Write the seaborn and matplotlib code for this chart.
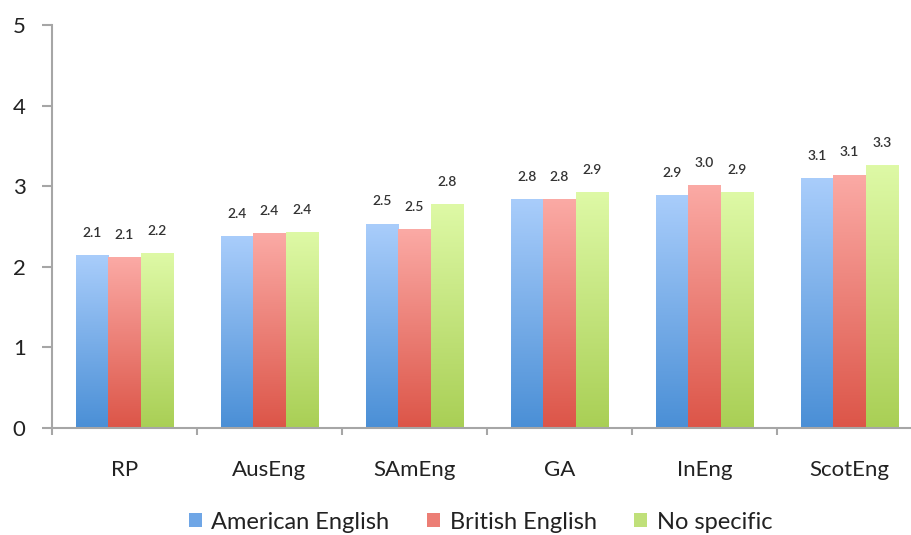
import numpy as np
import pandas as pd
import seaborn as sns
import matplotlib.pyplot as plt
from matplotlib.colors import LinearSegmentedColormap
from matplotlib.patches import Patch

# data
accents = ["RP", "AusEng", "SAmEng", "GA", "InEng", "ScotEng"]
groups = ["American English", "British English", "No specific"]
american = [2.14, 2.38, 2.53, 2.83, 2.88, 3.10]
british = [2.12, 2.41, 2.46, 2.84, 3.01, 3.14]
no_specific = [2.16, 2.43, 2.77, 2.92, 2.92, 3.26]

# top / bottom colours of the gradient fills
tops = ["#a9cdfb", "#fbaaa5", "#def9a6"]
bottoms = ["#4a8fd6", "#dc5548", "#a9cf55"]
mids = ["#6fa6e6", "#ec7e75", "#c0e07a"]

df = pd.DataFrame({
    "accent": accents * 3,
    "group": [groups[0]] * 6 + [groups[1]] * 6 + [groups[2]] * 6,
    "score": american + british + no_specific,
})

sns.set_theme(style="white")
plt.rcParams["font.family"] = ["Lato", "DejaVu Sans"]

fig = plt.figure(figsize=(9.12, 5.35), dpi=100)
ax = fig.add_axes([0.057, 0.2, 0.954, 0.753])

sns.barplot(data=df, x="accent", y="score", hue="group", palette=mids,
            width=0.667, gap=0, errorbar=None, legend=False, ax=ax)

ax.set_xlim(-0.5, 5.5)
ax.set_ylim(0, 5)

# replace flat fills with vertical gradients
for gi, container in enumerate(ax.containers):
    cmap = LinearSegmentedColormap.from_list("g", [bottoms[gi], tops[gi]])
    for bar in container:
        x, w, h = bar.get_x(), bar.get_width(), bar.get_height()
        grad = np.linspace(0, 1, 256).reshape(-1, 1)
        ax.imshow(grad, extent=[x, x + w, 0, h], origin="lower", aspect="auto",
                  cmap=cmap, zorder=2)
        bar.set_facecolor("none")
        bar.set_edgecolor("none")
    ax.bar_label(container, fmt="%.1f", padding=12, fontsize=10,
                 color="#333333", fontweight="semibold")

ax.set_xlim(-0.5, 5.5)
ax.set_ylim(0, 5)
ax.set_xlabel("")
ax.set_ylabel("")

sns.despine(ax=ax)
for s in ["left", "bottom"]:
    ax.spines[s].set_color("#a6a6a6")
    ax.spines[s].set_linewidth(1.5)

ax.set_yticks(range(6))
ax.tick_params(axis="y", which="major", left=True, length=7, width=1.5,
               color="#a6a6a6", labelsize=16, labelcolor="#222222", pad=12)
ax.set_xticks(range(len(accents)))
ax.set_xticklabels(accents)
ax.tick_params(axis="x", which="major", bottom=False, labelsize=16,
               labelcolor="#222222", pad=17)
ax.set_xticks(np.arange(-0.5, 5.6, 1), minor=True)
ax.tick_params(axis="x", which="minor", bottom=True, length=5, width=1.5,
               color="#a6a6a6")

handles = [Patch(facecolor=c, edgecolor="none") for c in mids]
fig.legend(handles, groups, loc="center", bbox_to_anchor=(0.527, 0.024),
           ncol=3, frameon=False, fontsize=17, handlelength=0.55,
           handleheight=0.55, handletextpad=0.4, columnspacing=1.6,
           labelcolor="#222222")

fig.savefig("out.png", dpi=100)
